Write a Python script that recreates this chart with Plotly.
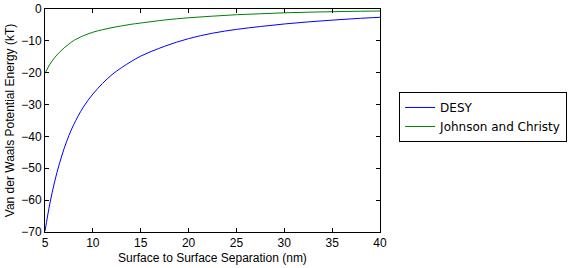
import plotly.graph_objects as go

separation_nm = [5, 5.5, 6, 6.5, 7, 7.5, 8, 9, 10, 11, 12, 13, 14, 15,
                 17.5, 20, 22.5, 25, 27.5, 30, 32.5, 35, 37.5, 40]
desy_kT = [-69.7, -61.2, -54.3, -48.6, -43.8, -39.7, -36.3, -30.8, -26.7,
           -23.4, -20.6, -18.4, -16.5, -14.8, -11.7, -9.3, -7.6, -6.4,
           -5.5, -4.7, -4.05, -3.5, -3.0, -2.6]
jc_kT = [-20.2, -17.4, -15.3, -13.6, -12.2, -11.0, -9.9, -8.4, -7.3,
         -6.5, -5.85, -5.3, -4.8, -4.4, -3.45, -2.75, -2.25, -1.8,
         -1.5, -1.2, -1.0, -0.85, -0.72, -0.63]
series_names = ["DESY", "Johnson and Christy"]
x_ticks = [5, 10, 15, 20, 25, 30, 35, 40]
y_ticks = [0, -10, -20, -30, -40, -50, -60, -70]

FONT = "Liberation Sans, Arial, sans-serif"
LEGEND_FONT = "DejaVu Sans, sans-serif"

fig = go.Figure()
fig.add_trace(go.Scatter(x=separation_nm, y=desy_kT, mode="lines",
                         line=dict(color="#0000ff", width=1, shape="spline"),
                         name=series_names[0]))
fig.add_trace(go.Scatter(x=separation_nm, y=jc_kT, mode="lines",
                         line=dict(color="#008000", width=1, shape="spline"),
                         name=series_names[1]))

axis_common = dict(showline=True, linecolor="black", linewidth=1, mirror="allticks",
                   ticks="inside", ticklen=4, tickcolor="black", tickwidth=1,
                   showgrid=False, zeroline=False, automargin=False,
                   tickfont=dict(family=FONT, size=12, color="black"))

fig.update_layout(
    width=569, height=268,
    margin=dict(l=45, r=189, t=9, b=36, autoexpand=False),
    paper_bgcolor="white", plot_bgcolor="white",
    font=dict(family=FONT, size=12, color="black"),
    xaxis=dict(range=[5, 40], tickvals=x_ticks,
               title=dict(text="Surface to Surface Separation (nm)",
                          font=dict(family=FONT, size=12), standoff=4),
               **axis_common),
    yaxis=dict(range=[-70, 0], tickvals=y_ticks,
               title=dict(text="Van der Waals Potential Energy (kT)",
                          font=dict(family=FONT, size=12), standoff=4),
               **axis_common),
    legend=dict(x=1.057, y=0.628, xanchor="left", yanchor="top",
                bordercolor="black", borderwidth=1, bgcolor="white",
                font=dict(family=LEGEND_FONT, size=12, color="black"),
                tracegroupgap=0, itemwidth=30),
    showlegend=True,
)

fig.write_html("out.html", config={"displayModeBar": False},
               post_script="document.body.style.margin='0';document.body.style.overflow='hidden';")
